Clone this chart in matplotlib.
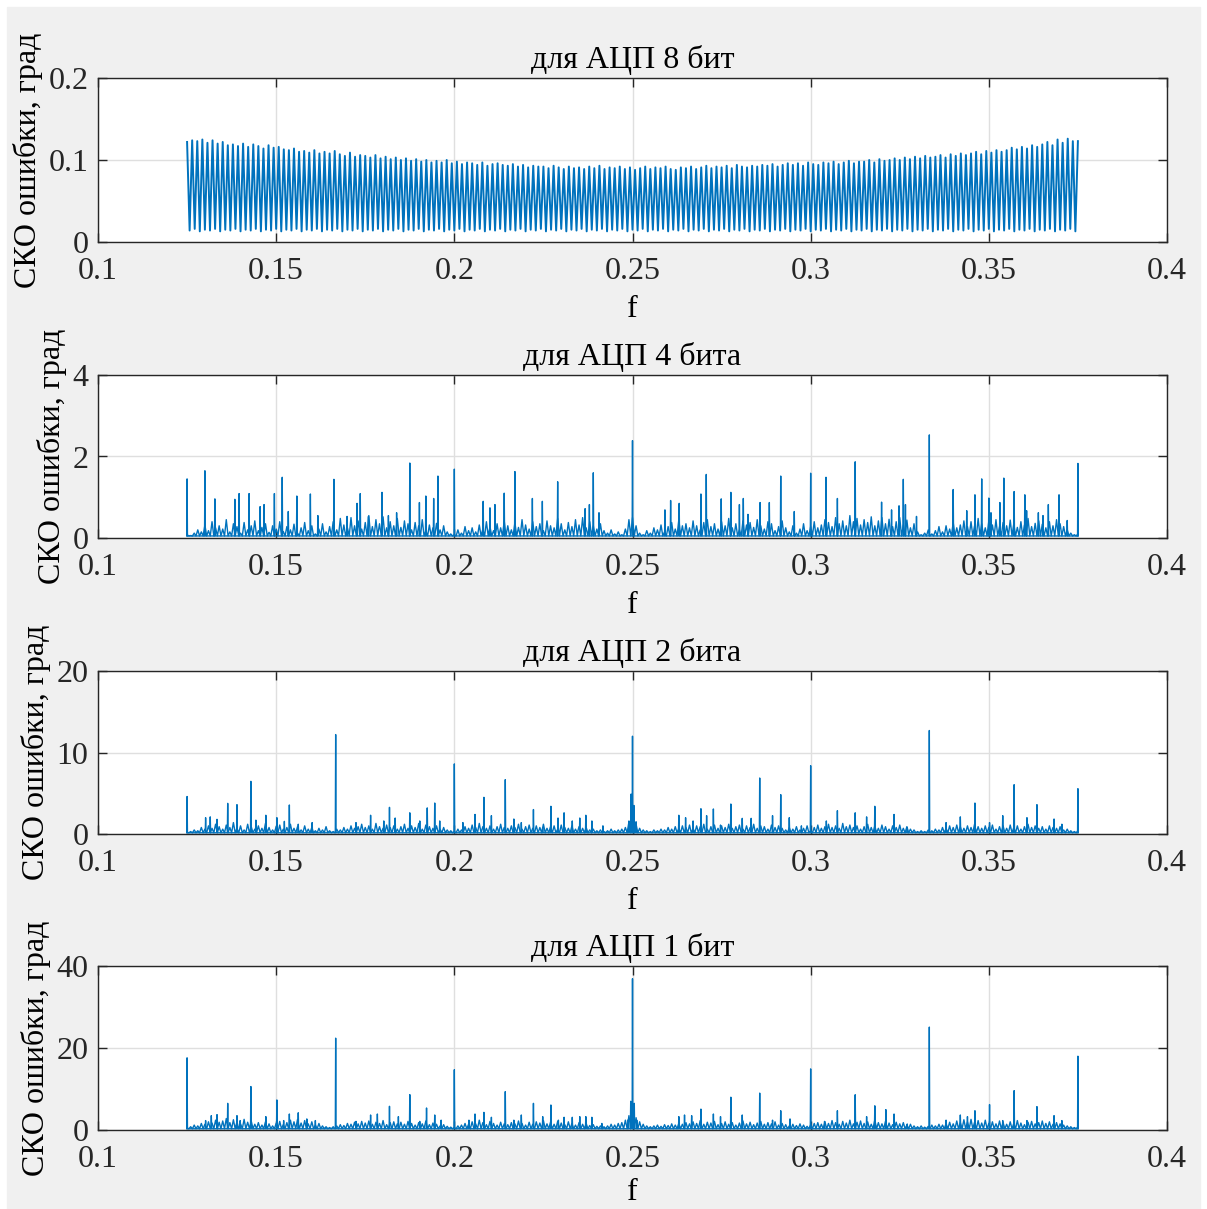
import numpy as np
import matplotlib.pyplot as plt
from matplotlib.patches import Rectangle

plt.rcParams['font.family'] = ['Liberation Serif', 'DejaVu Serif']

# ---- data ----
titles = ['для АЦП 8 бит', 'для АЦП 4 бита', 'для АЦП 2 бита', 'для АЦП 1 бит']
ylims = [0.2, 4, 20, 40]
yticks = [[0, 0.1, 0.2], [0, 2, 4], [0, 10, 20], [0, 20, 40]]
ytick_labels = [['0', '0.1', '0.2'], ['0', '2', '4'], ['0', '10', '20'], ['0', '20', '40']]
xticks = [0.1, 0.15, 0.2, 0.25, 0.3, 0.35, 0.4]
xtick_labels = ['0.1', '0.15', '0.2', '0.25', '0.3', '0.35', '0.4']

# 8 bit: tops of every oscillation cycle, 0.125 .. 0.375
tops8 = [
    0.122, 0.124, 0.123, 0.125, 0.121, 0.124, 0.120,
    0.122, 0.118, 0.119, 0.117, 0.120, 0.116, 0.119,
    0.117, 0.114, 0.118, 0.115, 0.116, 0.113, 0.112,
    0.114, 0.110, 0.111, 0.109, 0.112, 0.108, 0.110,
    0.108, 0.111, 0.107, 0.105, 0.109, 0.104, 0.106,
    0.105, 0.103, 0.106, 0.102, 0.104, 0.101, 0.103,
    0.100, 0.102, 0.099, 0.101, 0.098, 0.100, 0.097,
    0.099, 0.097, 0.100, 0.096, 0.098, 0.095, 0.097,
    0.096, 0.094, 0.097, 0.093, 0.095, 0.096, 0.094,
    0.093, 0.095, 0.092, 0.094, 0.091, 0.093, 0.092,
    0.092, 0.090, 0.093, 0.091, 0.089, 0.092, 0.090,
    0.091, 0.089, 0.092, 0.090, 0.093, 0.089, 0.091,
    0.090, 0.092, 0.089, 0.091, 0.088, 0.090, 0.092,
    0.089, 0.091, 0.090, 0.092, 0.089, 0.088, 0.091,
    0.090, 0.092, 0.089, 0.091, 0.093, 0.090, 0.092,
    0.091, 0.093, 0.090, 0.094, 0.092, 0.091, 0.093,
    0.092, 0.094, 0.093, 0.095, 0.092, 0.094, 0.096,
    0.094, 0.096, 0.093, 0.097, 0.095, 0.094, 0.097,
    0.096, 0.098, 0.095, 0.097, 0.099, 0.096, 0.098,
    0.098, 0.100, 0.097, 0.101, 0.099, 0.100, 0.102,
    0.100, 0.103, 0.101, 0.104, 0.102, 0.105, 0.103,
    0.104, 0.106, 0.103, 0.107, 0.105, 0.108, 0.106,
    0.108, 0.110, 0.107, 0.111, 0.109, 0.112, 0.110,
    0.112, 0.115, 0.113, 0.116, 0.114, 0.118, 0.116,
    0.119, 0.122, 0.118, 0.125, 0.121, 0.126, 0.123,
]
lows8 = [0.014, 0.016, 0.013, 0.015]

# 4 bit: prominent spikes
spk4_f = [0.125, 0.130, 0.1328, 0.1384, 0.1396, 0.1424, 0.1455, 0.1466, 0.1495, 0.1517,
          0.1534, 0.1558, 0.1596, 0.1617, 0.1662, 0.1699, 0.1727, 0.1736, 0.1759, 0.1797,
          0.1815, 0.1838, 0.1875, 0.1902, 0.1920, 0.1942, 0.1954, 0.2000, 0.2081, 0.2100,
          0.2114, 0.2140, 0.2170, 0.2219, 0.2247, 0.2290, 0.2367, 0.2379, 0.2390, 0.2406,
          0.2500, 0.2591, 0.2607, 0.2631, 0.2692, 0.2707, 0.2749, 0.2776, 0.2800, 0.2811,
          0.2824, 0.2858, 0.2884, 0.2916, 0.2954, 0.3000, 0.3043, 0.3075, 0.3125, 0.3199,
          0.3227, 0.3248, 0.3260, 0.3266, 0.3297, 0.3333, 0.3400, 0.3438, 0.3461, 0.3480,
          0.3500, 0.3506, 0.3531, 0.3542, 0.3571, 0.3601, 0.3606, 0.3639, 0.3652, 0.3667,
          0.3697, 0.3720, 0.375]
spk4_h = [1.45, 1.65, 0.96, 0.95, 1.09, 1.09, 0.77, 0.82, 1.09, 1.49,
          0.65, 1.03, 1.08, 0.55, 1.44, 0.53, 0.85, 1.09, 0.53, 1.12,
          0.55, 0.62, 1.84, 0.87, 1.03, 0.97, 1.52, 1.69, 0.90, 0.74,
          0.82, 1.10, 1.63, 0.97, 0.90, 1.38, 0.72, 0.82, 1.60, 0.62,
          2.39, 0.69, 0.92, 0.85, 1.08, 1.56, 0.96, 1.12, 0.82, 0.97,
          0.58, 0.87, 0.87, 1.52, 0.65, 1.59, 1.49, 0.97, 1.87, 0.88,
          0.69, 0.79, 1.44, 0.82, 0.53, 2.53, 1.19, 0.67, 1.06, 1.45,
          0.98, 0.62, 0.87, 1.47, 1.14, 1.06, 0.67, 0.62, 0.55, 0.82,
          1.06, 0.43, 1.83]
# background level, one value per 0.001 from 0.125 to 0.375
grass4 = [
    0.08, 0.06, 0.12, 0.20, 0.15, 0.32, 0.18, 0.40, 0.25, 0.30,
    0.22, 0.45, 0.15, 0.35, 0.28, 0.12, 0.38, 0.20, 0.30, 0.42,
    0.18, 0.26, 0.35, 0.14, 0.30, 0.22, 0.40, 0.16, 0.28, 0.20,
    0.34, 0.12, 0.25, 0.38, 0.18, 0.30, 0.10, 0.22, 0.35, 0.15,
    0.28, 0.40, 0.20, 0.48, 0.32, 0.25, 0.50, 0.30, 0.42, 0.22,
    0.38, 0.55, 0.28, 0.45, 0.35, 0.52, 0.25, 0.40, 0.30, 0.48,
    0.26, 0.42, 0.35, 0.20, 0.38, 0.30, 0.45, 0.18, 0.32, 0.25,
    0.36, 0.20, 0.30, 0.15, 0.10, 0.08, 0.20, 0.12, 0.28, 0.18,
    0.25, 0.15, 0.32, 0.22, 0.40, 0.28, 0.18, 0.35, 0.25, 0.42,
    0.30, 0.20, 0.38, 0.26, 0.45, 0.32, 0.22, 0.40, 0.28, 0.35,
    0.18, 0.42, 0.30, 0.25, 0.48, 0.35, 0.20, 0.38, 0.28, 0.45,
    0.32, 0.50, 0.25, 0.40, 0.30, 0.22, 0.35, 0.18, 0.12, 0.20,
    0.10, 0.15, 0.08, 0.22, 0.45, 0.50, 0.30, 0.12, 0.08, 0.18,
    0.12, 0.25, 0.20, 0.32, 0.15, 0.28, 0.38, 0.22, 0.45, 0.30,
    0.35, 0.25, 0.42, 0.30, 0.20, 0.38, 0.45, 0.28, 0.35, 0.22,
    0.40, 0.30, 0.48, 0.25, 0.35, 0.20, 0.42, 0.32, 0.38, 0.26,
    0.45, 0.30, 0.22, 0.40, 0.35, 0.18, 0.28, 0.42, 0.25, 0.15,
    0.30, 0.12, 0.22, 0.35, 0.18, 0.28, 0.40, 0.25, 0.32, 0.45,
    0.38, 0.28, 0.50, 0.35, 0.42, 0.30, 0.55, 0.40, 0.48, 0.32,
    0.45, 0.38, 0.52, 0.30, 0.42, 0.50, 0.35, 0.46, 0.28, 0.40,
    0.50, 0.32, 0.44, 0.25, 0.35, 0.15, 0.08, 0.12, 0.20, 0.10,
    0.18, 0.28, 0.15, 0.30, 0.22, 0.38, 0.25, 0.32, 0.42, 0.28,
    0.40, 0.30, 0.48, 0.35, 0.25, 0.42, 0.32, 0.45, 0.28, 0.38,
    0.30, 0.44, 0.35, 0.26, 0.40, 0.32, 0.48, 0.28, 0.36, 0.42,
    0.34, 0.25, 0.40, 0.30, 0.45, 0.35, 0.28, 0.20, 0.12, 0.08,
    0.10,
]
floor4 = 0.05

# 2 bit
spk2_f = [0.125, 0.1302, 0.1315, 0.1334, 0.1364, 0.1390, 0.1429, 0.1443, 0.1471, 0.1502,
          0.1523, 0.1537, 0.1562, 0.1601, 0.1667, 0.1724, 0.1765, 0.1802, 0.1818, 0.1834,
          0.1875, 0.1903, 0.1924, 0.1945, 0.1959, 0.2000, 0.2024, 0.2058, 0.2083, 0.2104,
          0.2143, 0.2167, 0.2188, 0.2222, 0.2248, 0.2271, 0.2291, 0.2308, 0.2331, 0.2352,
          0.2369, 0.2386, 0.2417, 0.2490, 0.2496, 0.2500, 0.2504, 0.2510, 0.2630, 0.2649,
          0.2670, 0.2692, 0.2708, 0.2727, 0.2747, 0.2776, 0.2808, 0.2833, 0.2857, 0.2893,
          0.2916, 0.2940, 0.2974, 0.3000, 0.3044, 0.3075, 0.3125, 0.3157, 0.3180, 0.3234,
          0.3271, 0.3333, 0.3380, 0.3420, 0.3461, 0.3502, 0.3539, 0.3571, 0.3607, 0.3635,
          0.3683, 0.3705, 0.375]
spk2_h = [4.6, 2.0, 2.1, 1.8, 3.76, 3.6, 6.46, 1.7, 2.3, 2.0,
          1.55, 3.56, 1.2, 1.4, 12.2, 1.4, 2.3, 1.6, 3.27, 1.96,
          2.6, 1.6, 3.2, 3.8, 1.6, 8.6, 1.4, 2.4, 4.5, 2.25,
          6.67, 1.84, 1.4, 3.0, 0.8, 3.4, 1.96, 2.6, 1.6, 1.96,
          2.3, 1.6, 1.0, 1.6, 4.9, 12.0, 3.5, 1.5, 2.3, 2.0,
          1.6, 3.1, 2.25, 3.07, 1.1, 3.68, 1.92, 1.92, 6.87, 2.25,
          4.83, 2.0, 1.0, 8.38, 1.6, 2.86, 2.6, 2.1, 3.4, 2.4,
          0.8, 12.7, 1.4, 2.1, 3.8, 1.4, 2.25, 6.05, 2.0, 3.6,
          1.84, 1.2, 5.56]
grass2 = [
    0.2, 0.3, 0.5, 0.4, 0.8, 0.6, 1.0, 0.7, 1.2, 0.9,
    0.6, 1.1, 0.8, 1.4, 0.7, 1.0, 0.5, 1.2, 0.9, 0.6,
    1.0, 0.7, 1.3, 0.8, 0.5, 0.9, 1.1, 0.6, 0.8, 1.2,
    0.7, 0.9, 0.5, 1.0, 0.6, 0.8, 0.4, 0.7, 0.5, 0.9,
    0.4, 0.3, 0.6, 0.5, 0.8, 0.6, 1.0, 0.7, 0.9, 1.2,
    0.8, 1.0, 0.6, 1.3, 0.9, 0.7, 1.1, 0.8, 1.0, 0.6,
    0.9, 1.2, 0.7, 1.0, 0.8, 1.3, 0.6, 1.1, 0.9, 0.7,
    1.0, 0.6, 0.8, 0.5, 0.4, 0.3, 0.6, 0.5, 0.9, 0.7,
    1.1, 0.8, 1.3, 0.9, 0.7, 1.0, 0.6, 0.9, 1.2, 0.8,
    0.7, 1.0, 0.8, 1.2, 0.6, 0.9, 1.1, 0.7, 1.0, 0.8,
    1.2, 0.7, 0.9, 1.0, 0.6, 1.1, 0.8, 0.7, 1.0, 0.6,
    0.9, 0.7, 0.8, 0.5, 0.6, 0.4, 0.5, 0.3, 0.4, 0.6,
    0.4, 0.5, 0.6, 0.8, 1.5, 2.5, 1.2, 0.7, 0.5, 0.4,
    0.3, 0.5, 0.4, 0.6, 0.5, 0.8, 0.6, 0.9, 0.7, 1.0,
    0.8, 1.1, 0.7, 1.0, 0.9, 1.2, 0.6, 0.9, 1.1, 0.7,
    1.0, 0.8, 1.2, 0.7, 0.9, 1.1, 0.6, 1.0, 0.8, 1.2,
    0.7, 1.0, 0.9, 0.6, 1.1, 0.8, 1.0, 0.7, 0.5, 0.8,
    0.6, 0.9, 0.5, 0.7, 1.0, 0.4, 0.8, 1.1, 0.7, 0.9,
    1.2, 0.8, 1.0, 0.7, 1.3, 0.9, 1.1, 0.8, 1.0, 0.6,
    0.9, 1.2, 0.8, 1.0, 0.7, 1.1, 0.9, 0.6, 1.0, 0.8,
    1.1, 0.7, 0.9, 0.6, 0.5, 0.3, 0.4, 0.3, 0.5, 0.4,
    0.6, 0.5, 0.8, 0.7, 1.0, 0.8, 1.1, 0.9, 0.7, 1.0,
    0.8, 1.2, 0.9, 0.7, 1.0, 0.8, 1.1, 0.6, 0.9, 1.0,
    0.7, 1.1, 0.8, 1.0, 0.6, 0.9, 1.2, 0.8, 1.0, 0.7,
    0.9, 0.6, 1.0, 0.8, 0.7, 0.9, 0.5, 0.6, 0.4, 0.3,
    0.4,
]
floor2 = 0.15

# 1 bit
spk1_f = [0.125, 0.1302, 0.1318, 0.1334, 0.1364, 0.1390, 0.1399, 0.1429, 0.1471, 0.1502,
          0.1521, 0.1537, 0.1562, 0.1586, 0.1610, 0.1667, 0.1724, 0.1765, 0.1784, 0.1818,
          0.1843, 0.1875, 0.1903, 0.1922, 0.1945, 0.1963, 0.2000, 0.2041, 0.2058, 0.2083,
          0.2104, 0.2143, 0.2167, 0.2188, 0.2222, 0.2248, 0.2271, 0.2292, 0.2308, 0.2331,
          0.2352, 0.2369, 0.2386, 0.2414, 0.2488, 0.2495, 0.2500, 0.2505, 0.2512, 0.2630,
          0.2646, 0.2666, 0.2692, 0.2727, 0.2747, 0.2776, 0.2808, 0.2857, 0.2893, 0.2916,
          0.2942, 0.3000, 0.3039, 0.3075, 0.3125, 0.3157, 0.3180, 0.3211, 0.3234, 0.3271,
          0.3333, 0.3380, 0.3420, 0.3440, 0.3461, 0.3502, 0.3539, 0.3571, 0.3607, 0.3635,
          0.3683, 0.3705, 0.375]
spk1_h = [17.6, 2.3, 3.5, 3.75, 6.5, 3.5, 2.3, 10.6, 3.26, 7.33,
          2.3, 3.9, 4.2, 2.7, 2.3, 22.4, 2.1, 3.66, 3.9, 5.78,
          3.26, 8.63, 2.1, 5.37, 3.66, 2.4, 14.7, 2.4, 3.9, 4.3,
          3.1, 9.36, 2.4, 3.66, 6.5, 3.26, 6.1, 2.4, 3.1, 3.1,
          3.26, 3.26, 3.1, 1.6, 2.5, 7.0, 36.9, 6.5, 2.4, 3.26,
          3.66, 3.5, 5.1, 3.9, 3.26, 8.0, 3.66, 9.0, 2.4, 4.7,
          2.7, 14.9, 2.1, 4.7, 8.6, 3.26, 5.9, 4.97, 3.9, 1.47,
          25.1, 2.4, 3.66, 3.26, 4.7, 6.2, 2.3, 9.6, 2.3, 5.7,
          3.5, 2.3, 18.0]
grass1 = [
    0.5, 0.8, 1.2, 1.0, 1.6, 1.4, 2.0, 1.7, 2.4, 1.9,
    2.2, 2.8, 1.8, 2.5, 2.0, 1.5, 2.6, 1.9, 2.2, 1.4,
    1.8, 1.2, 2.0, 1.5, 1.0, 1.6, 2.1, 1.3, 1.8, 2.4,
    2.0, 2.6, 1.7, 2.3, 1.5, 2.0, 1.2, 1.6, 1.0, 0.8,
    0.6, 0.8, 1.0, 1.3, 1.1, 1.6, 1.4, 1.9, 1.5, 2.1,
    1.7, 2.2, 1.4, 1.9, 1.6, 2.3, 1.3, 1.8, 2.0, 1.5,
    1.9, 1.4, 2.1, 1.6, 1.2, 1.8, 1.5, 2.2, 1.3, 1.7,
    1.4, 1.0, 1.3, 0.9, 0.7, 0.6, 1.0, 1.2, 1.6, 1.4,
    2.0, 1.5, 2.4, 1.8, 1.3, 2.1, 1.6, 1.2, 1.9, 1.5,
    1.3, 1.8, 1.5, 2.2, 1.6, 1.2, 1.9, 1.4, 2.0, 1.7,
    2.3, 1.5, 1.9, 1.4, 2.1, 1.7, 1.3, 2.0, 1.6, 1.2,
    1.8, 1.4, 1.6, 1.1, 1.3, 0.9, 1.0, 0.8, 1.0, 1.4,
    1.2, 1.6, 1.8, 2.4, 3.5, 5.0, 3.0, 2.0, 1.4, 1.0,
    0.8, 1.0, 1.2, 0.9, 1.3, 1.1, 1.5, 1.2, 1.6, 1.4,
    1.8, 1.5, 2.0, 1.6, 2.3, 1.4, 1.9, 1.7, 2.1, 1.3,
    1.6, 2.0, 1.4, 1.8, 1.2, 1.7, 2.2, 1.5, 1.9, 1.3,
    1.7, 2.1, 1.4, 1.8, 1.5, 2.0, 1.2, 1.6, 1.3, 1.0,
    1.4, 1.1, 1.5, 1.2, 0.9, 1.3, 1.6, 1.8, 1.4, 2.0,
    1.6, 2.3, 1.8, 1.4, 2.1, 1.7, 2.4, 1.5, 1.9, 2.2,
    1.6, 2.0, 1.4, 2.5, 1.8, 1.5, 2.1, 1.7, 1.3, 1.9,
    1.5, 1.8, 1.2, 1.4, 1.0, 0.8, 1.0, 0.7, 0.9, 1.2,
    1.0, 1.4, 1.2, 1.6, 1.9, 1.5, 2.2, 1.8, 2.5, 2.0,
    2.6, 1.9, 2.3, 1.7, 2.4, 1.6, 2.0, 1.5, 2.2, 1.8,
    1.4, 2.0, 1.6, 2.3, 1.7, 1.3, 1.9, 2.1, 1.5, 1.8,
    2.2, 1.6, 2.0, 1.4, 1.8, 1.5, 1.2, 1.0, 0.8, 0.6,
    0.8,
]
floor1 = 0.3

f_start, f_stop = 0.125, 0.375
grass_f = np.linspace(f_start, f_stop, len(grass4))

BLUE = '#0072BD'
FS = 23
W, H = 1207, 1209
fig = plt.figure(figsize=(W / 100, H / 100), dpi=100, facecolor='white')
fig.patches.append(Rectangle((7 / W, 0), (1200 - 7) / W, 1 - 7 / H,
                             transform=fig.transFigure, color='#f0f0f0', zorder=-10))

rows = [(78, 242), (375, 538), (671, 834), (966, 1130)]
axes = []
for (yt, yb) in rows:
    axes.append(fig.add_axes([98 / W, 1 - yb / H, (1167 - 98) / W, (yb - yt) / H]))


def zigzag(fs, hs, floor):
    # points joined through a floor value half-way between neighbours
    fs = np.asarray(fs)
    hs = np.asarray(hs)
    mids = (fs[:-1] + fs[1:]) / 2
    x = np.empty(2 * len(fs) - 1)
    y = np.empty(2 * len(fs) - 1)
    x[0::2], y[0::2] = fs, hs
    x[1::2], y[1::2] = mids, floor
    return x, y


def stems(fs, hs, floor, d=0.0001):
    fs = np.asarray(fs)
    hs = np.asarray(hs)
    x = np.column_stack([fs - d, fs, fs + d]).ravel()
    y = np.column_stack([np.full_like(hs, floor), hs, np.full_like(hs, floor)]).ravel()
    return x, y


# panel 1: oscillation between cycle tops and lows
n = len(tops8)
xs = np.linspace(f_start, f_stop, 2 * n + 1)
ys = []
for k, t in enumerate(tops8):
    ys += [t, lows8[k % len(lows8)]]
ys.append(tops8[-1])
axes[0].plot(xs, ys, color=BLUE, lw=1.4)

sets = [(spk4_f, spk4_h, grass4, floor4),
        (spk2_f, spk2_h, grass2, floor2),
        (spk1_f, spk1_h, grass1, floor1)]
for ax, (sf, sh, g, fl) in zip(axes[1:], sets):
    x, y = zigzag(grass_f, g, fl)
    ax.plot(x, y, color=BLUE, lw=1.0)
    x, y = stems(sf, sh, fl)
    ax.plot(x, y, color=BLUE, lw=1.0)

for i, ax in enumerate(axes):
    ax.set_xlim(0.1, 0.4)
    ax.set_ylim(0, ylims[i])
    ax.set_xticks(xticks)
    ax.set_xticklabels(xtick_labels)
    ax.set_yticks(yticks[i])
    ax.set_yticklabels(ytick_labels[i])
    ax.grid(True, color='#dfdfdf', lw=1.0)
    ax.set_axisbelow(True)
    ax.tick_params(direction='in', length=6.5, width=1.0, top=True, right=True,
                   labelsize=FS, colors='#262626', pad=7)
    ax.tick_params(axis='x', pad=11)
    for s in ax.spines.values():
        s.set_color('#262626')
        s.set_linewidth(1.0)
    ax.set_title(titles[i], fontsize=FS, color='#000000', pad=7)
    ax.set_xlabel('f', fontsize=FS, labelpad=6 if i < 3 else 3)
    ax.set_ylabel('СКО ошибки, град', fontsize=FS, labelpad=4)

fig.savefig('out.png', dpi=100, facecolor=fig.get_facecolor())
